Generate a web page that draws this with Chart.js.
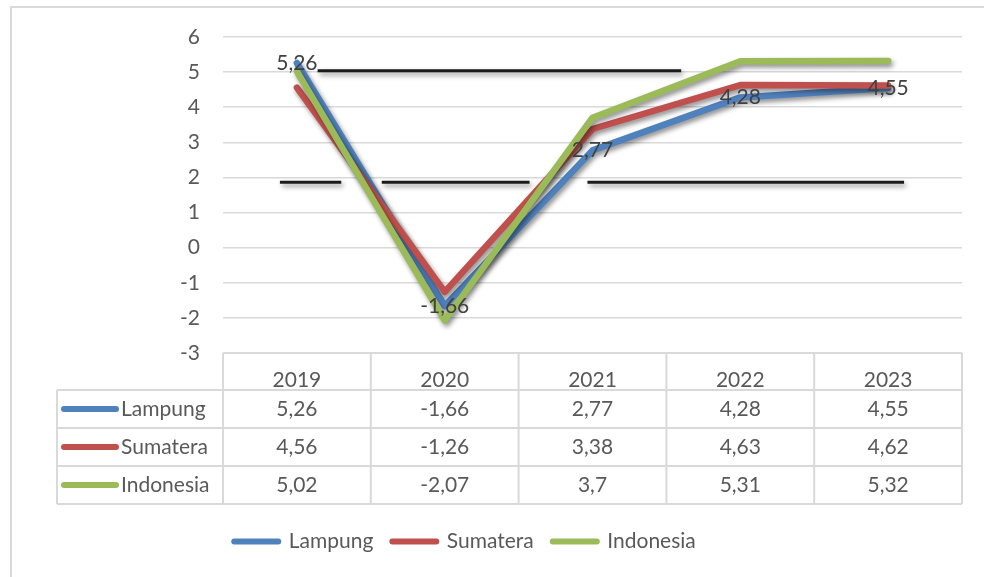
<!DOCTYPE html>
<html>
<head>
<meta charset="utf-8">
<script src="https://cdn.jsdelivr.net/npm/chart.js@4.4.0/dist/chart.umd.min.js"></script>
<style>
html,body{margin:0;padding:0;background:#fff;}
#wrap{position:relative;width:984px;height:577px;}
</style>
</head>
<body>
<div id="wrap"><canvas id="c" width="984" height="577"></canvas></div>
<script>
// ---- data ----
const categories = ['2019', '2020', '2021', '2022', '2023'];
const seriesNames = ['Lampung', 'Sumatera', 'Indonesia'];
const lampung   = [5.26, -1.66, 2.77, 4.28, 4.55];
const sumatera  = [4.56, -1.26, 3.38, 4.63, 4.62];
const indonesia = [5.02, -2.07, 3.7, 5.31, 5.32];
const yMin = -3, yMax = 6, yStep = 1;
// stray black strokes in the picture (x in category-index units)
const blackUpper  = [{x: 0.14, y: 5.04}, {x: 2.60, y: 5.04}];
const blackLowerA = [{x: -0.115, y: 1.86}, {x: 0.30, y: 1.86}];
const blackLowerB = [{x: 0.574, y: 1.86}, {x: 1.574, y: 1.86}];
const blackLowerC = [{x: 1.966, y: 1.86}, {x: 4.108, y: 1.86}];

const colors = ['#4f81bd', '#c0504d', '#9bbb59'];
const seriesValues = [lampung, sumatera, indonesia];
const fmt = v => String(v).replace('.', ',');
const FONT = 'Lato';
const FS = 21;

const framePlugin = {
  id: 'frame',
  beforeDraw(chart) {
    const ctx = chart.ctx;
    ctx.save();
    ctx.fillStyle = '#ffffff';
    ctx.fillRect(0, 0, chart.width, chart.height);
    ctx.strokeStyle = '#d9d9d9';
    ctx.lineWidth = 2;
    ctx.strokeRect(11, 7, 1200, 800);
    ctx.restore();
  },
  afterLayout(chart) {
    const L = chart.legend;
    if (L) { L.left -= 16; L.right -= 16; }
  }
};

const shadowPlugin = {
  id: 'shadow',
  beforeDatasetDraw(chart) {
    const ctx = chart.ctx;
    ctx.save();
    ctx.shadowColor = 'rgba(0,0,0,0.45)';
    ctx.shadowBlur = 5;
    ctx.shadowOffsetX = 2;
    ctx.shadowOffsetY = 3;
  },
  afterDatasetDraw(chart) {
    chart.ctx.restore();
  }
};

const labelPlugin = {
  id: 'dataLabels',
  afterDatasetsDraw(chart) {
    const ctx = chart.ctx;
    const meta = chart.getDatasetMeta(0);
    ctx.save();
    ctx.font = FS + 'px ' + FONT;
    ctx.fillStyle = '#404040';
    ctx.textAlign = 'center';
    ctx.textBaseline = 'middle';
    meta.data.forEach((pt, i) => {
      ctx.fillText(fmt(lampung[i]), pt.x, pt.y);
    });
    ctx.restore();
  }
};

const tablePlugin = {
  id: 'dataTable',
  afterDraw(chart) {
    const ctx = chart.ctx;
    const xs = chart.scales.x;
    const left = xs.left, right = xs.right;
    const colW = (right - left) / categories.length;
    const top = chart.chartArea.bottom;
    const headH = 37;
    const rowH = 38;
    const tableLeft = 57;
    const bodyTop = top + headH;
    const bottom = bodyTop + rowH * seriesNames.length;
    ctx.save();
    ctx.strokeStyle = '#d9d9d9';
    ctx.lineWidth = 2;
    ctx.beginPath();
    for (let k = 0; k <= categories.length; k++) {
      const x = left + k * colW;
      ctx.moveTo(x, top); ctx.lineTo(x, bottom);
    }
    ctx.moveTo(tableLeft, bodyTop); ctx.lineTo(tableLeft, bottom);
    ctx.moveTo(left, top); ctx.lineTo(right, top);
    for (let r = 0; r <= seriesNames.length; r++) {
      const y = bodyTop + r * rowH;
      ctx.moveTo(tableLeft, y); ctx.lineTo(right, y);
    }
    ctx.stroke();

    ctx.font = FS + 'px ' + FONT;
    ctx.fillStyle = '#595959';
    ctx.textBaseline = 'middle';
    seriesNames.forEach((name, r) => {
      const cy = bodyTop + r * rowH + rowH / 2;
      ctx.save();
      ctx.strokeStyle = colors[r];
      ctx.lineWidth = 6;
      ctx.lineCap = 'round';
      ctx.beginPath();
      ctx.moveTo(64, cy); ctx.lineTo(116, cy);
      ctx.stroke();
      ctx.restore();
      ctx.textAlign = 'left';
      ctx.fillText(name, 121, cy);
      ctx.textAlign = 'center';
      seriesValues[r].forEach((v, i) => {
        ctx.fillText(fmt(v), xs.getPixelForTick(i), cy);
      });
    });
    ctx.restore();
  }
};

function blackDs(data) {
  return {
    label: '_ref', data: data, xAxisID: 'x2',
    borderColor: '#1a1a1a', borderWidth: 3, pointRadius: 0,
    borderCapStyle: 'butt', fill: false, order: 10
  };
}

function make() {
  const datasets = seriesNames.map((name, i) => ({
    label: name,
    data: seriesValues[i],
    borderColor: colors[i],
    backgroundColor: colors[i],
    borderWidth: 6.5,
    borderCapStyle: 'round',
    borderJoinStyle: 'round',
    pointRadius: 0,
    tension: 0,
    fill: false,
    order: 3 - i
  }));
  datasets.push(blackDs(blackUpper), blackDs(blackLowerA), blackDs(blackLowerB), blackDs(blackLowerC));

  new Chart(document.getElementById('c'), {
    type: 'line',
    data: { labels: categories, datasets: datasets },
    options: {
      responsive: false,
      animation: false,
      devicePixelRatio: 1,
      layout: { padding: { top: 37, right: 22, left: 0, bottom: 15 } },
      scales: {
        x: {
          type: 'category',
          offset: true,
          grid: { display: false },
          border: { display: false },
          ticks: { color: '#595959', font: { family: FONT, size: FS }, padding: 7, maxRotation: 0 },
          afterFit(s) { s.height = 159; }
        },
        x2: {
          type: 'linear', display: false, min: -0.5, max: 4.5
        },
        y: {
          min: yMin, max: yMax,
          ticks: { stepSize: yStep, color: '#595959', font: { family: FONT, size: FS }, padding: 23 },
          grid: { color: '#d9d9d9', lineWidth: 1.5, drawTicks: false },
          border: { display: false },
          afterFit(s) { s.width = 223; }
        }
      },
      plugins: {
        legend: {
          position: 'bottom',
          labels: {
            generateLabels: () => seriesNames.map((name, i) => ({
              text: name,
              datasetIndex: i,
              strokeStyle: colors[i],
              fillStyle: colors[i],
              fontColor: '#595959',
              lineWidth: 6,
              lineCap: 'round',
              pointStyle: 'line',
              hidden: false
            })),
            usePointStyle: true,
            pointStyle: 'line',
            pointStyleWidth: 44,
            padding: 19,
            color: '#595959',
            font: { family: FONT, size: FS }
          }
        },
        tooltip: { enabled: false }
      }
    },
    plugins: [framePlugin, shadowPlugin, labelPlugin, tablePlugin]
  });
}

if (document.fonts && document.fonts.load) {
  document.fonts.load(FS + 'px Lato').then(make, make);
} else { make(); }
</script>
</body>
</html>
